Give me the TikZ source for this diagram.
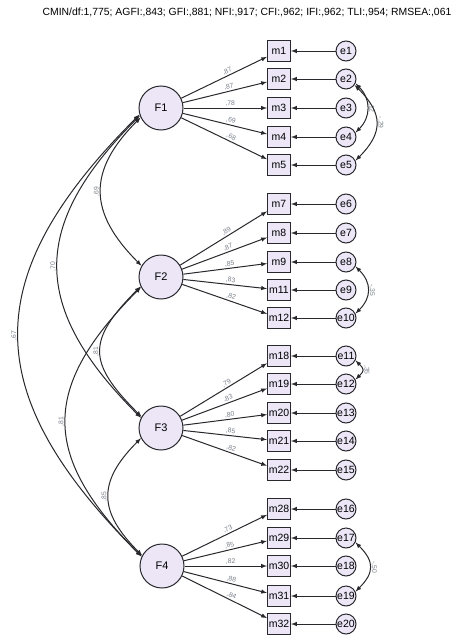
\documentclass[tikz,border=0pt]{standalone}
\usepackage{fontspec}
\setmainfont{Liberation Sans}
\usepackage{xcolor}
\usepackage{tikz}
\usetikzlibrary{shapes,arrows,positioning,calc}
\definecolor{lav}{RGB}{236,230,247}
\definecolor{lblgray}{RGB}{120,128,138}
\definecolor{edge}{RGB}{40,40,45}

\begin{document}
\begin{tikzpicture}[x=1pt,y=1pt,line width=1pt,draw=edge,
  fac/.style={circle,draw,fill=lav,minimum size=44pt,inner sep=0pt,font=\fontsize{11}{13}\selectfont},
  obs/.style={rectangle,draw,fill=lav,minimum width=23pt,minimum height=21pt,inner sep=0.5pt,font=\fontsize{10.5}{12}\selectfont},
  err/.style={circle,draw,fill=lav,minimum size=20pt,inner sep=0pt,font=\fontsize{10.5}{12}\selectfont},
  lbl/.style={font=\fontsize{6.8}{8}\selectfont,text=lblgray,inner sep=1pt,allow upside down}]
\useasboundingbox (0,0) rectangle (473,-640);
            % fit indices
            \node (fit) at (247,-12) {\fontsize{10.4}{12}\selectfont CMIN/df:1,775; AGFI:,843; GFI:,881; NFI:,917; CFI:,962; IFI:,962; TLI:,954; RMSEA:,061};
            % latent factors
            \node[fac] (F1) at (161,-108) {F1};
            \node[fac] (F2) at (161,-277) {F2};
            \node[fac] (F3) at (161,-428) {F3};
            \node[fac] (F4) at (162,-566) {F4};
            % items with their errors
            \foreach \m/\e/\y in {1/1/51,2/2/79,3/3/108,4/4/137,5/5/165,7/6/204,8/7/233,9/8/262,11/9/290,12/10/318,18/11/356,19/12/384,20/13/413,21/14/441,22/15/470,28/16/509,29/17/538,30/18/566,31/19/596,32/20/624}{
            \node[obs] (m\m) at (279,-\y) {m\m};
            \node[err] (e\e) at (346,-\y) {e\e};
            \draw[-latex] (e\e) -- (m\m);
            }
            % loadings
            \foreach \f/\m/\l in {1/1/87,1/2/87,1/3/78,1/4/69,1/5/68,2/7/89,2/8/87,2/9/85,2/11/83,2/12/82,3/18/79,3/19/83,3/20/80,3/21/85,3/22/82,4/28/73,4/29/85,4/30/82,4/31/88,4/32/84}
            \draw[-latex] (F\f) -- (m\m) node[pos=0.56,above,sloped,lbl] {,\l};
            % factor covariances
            \draw[latex-latex] (F2.150) to[out=135,in=225,looseness=1.3] node[midway,above,sloped,lbl] {,69} (F1.205);
            \draw[latex-latex] (F3.153) to[out=135,in=225,looseness=1.32] node[midway,above,sloped,lbl] {,70} (F1.200);
            \draw[latex-latex] (F4.155) to[out=135,in=225,looseness=1.33] node[midway,above,sloped,lbl] {,67} (F1.197);
            \draw[latex-latex] (F3.150) to[out=135,in=225,looseness=1.5] node[midway,above,sloped,lbl] {,81} (F2.205);
            \draw[latex-latex] (F4.155) to[out=135,in=225,looseness=1.35] node[midway,above,sloped,lbl] {,81} (F2.207);
            \draw[latex-latex] (F4.152) to[out=135,in=225,looseness=1.35] node[midway,above,sloped,lbl] {,85} (F3.207);
            % error covariances
            \draw[latex-latex] (e2.-25) to[out=-45,in=45,looseness=1.15] node[midway,above,sloped,lbl] {,12} (e4.25);
            \draw[latex-latex] (e2.-35) to[out=-45,in=45,looseness=1.35] node[midway,above,sloped,lbl] {-,29} (e5.25);
            \draw[latex-latex] (e8.-25) to[out=-45,in=45,looseness=1.25] node[midway,above,sloped,lbl] {-,35} (e10.25);
            \draw[latex-latex] (e11.-25) to[out=-45,in=45,looseness=1.7] node[midway,above,sloped,lbl] {,35} (e12.25);
            \draw[latex-latex] (e17.-25) to[out=-45,in=45,looseness=1.4] node[midway,above,sloped,lbl] {-,50} (e19.25);
\end{tikzpicture}
\end{document}
